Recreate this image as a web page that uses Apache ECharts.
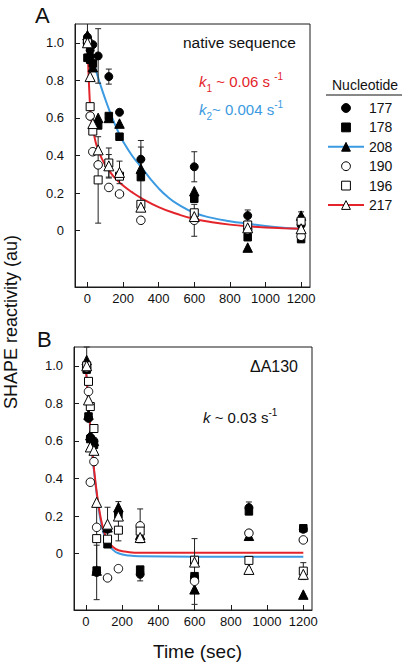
<!DOCTYPE html>
<html><head><meta charset="utf-8">
<script src="https://cdn.jsdelivr.net/npm/echarts@6/dist/echarts.min.js"></script>
<style>html,body{margin:0;padding:0;background:#fff}#c{width:402px;height:662px}</style>
</head><body><div id="c"></div>
<script>
// ---------- data ----------
const nucleotides = ['177', '178', '208', '190', '196', '217'];
const xTicks = [0, 200, 400, 600, 800, 1000, 1200];
const yTicks = [0, 0.2, 0.4, 0.6, 0.8, 1.0];

// Panel A : native sequence
const timesA = [0, 15, 30, 60, 120, 180, 300, 600, 900, 1200];
const a177 = [1.03, 0.96, 0.99, 0.93, 0.82, 0.63, 0.38, 0.34, 0.08, 0.03];
const a178 = [0.92, 0.91, 0.89, 0.56, 0.61, 0.50, 0.285, 0.17, -0.035, -0.045];
const a208 = [1.04, 0.95, 0.87, 0.60, 0.60, 0.57, 0.33, 0.21, -0.09, 0.08];
const a190 = [1.00, 0.61, 0.42, 0.35, 0.23, 0.195, 0.055, 0.055, 0.005, -0.03];
const a196 = [1.00, 0.66, 0.53, 0.27, 0.36, 0.29, 0.14, 0.095, 0.03, 0.05];
const a217 = [1.00, 0.82, 0.57, 0.43, 0.345, 0.31, 0.125, 0.075, 0.015, 0.01];
const errA177 = [0.09, 0, 0, 0.145, 0.04, 0, 0.10, 0.08, 0.03, 0];
const errA178 = [0, 0, 0, 0, 0, 0, 0.16, 0, 0, 0];
const errA208 = [0, 0, 0, 0, 0, 0, 0, 0, 0, 0.02];
const errA190 = [0, 0, 0, 0, 0, 0, 0, 0.085, 0, 0];
const errA196 = [0, 0, 0, 0.23, 0.08, 0, 0, 0, 0, 0.03];
const errA217 = [0, 0, 0, 0, 0.06, 0.06, 0, 0, 0, 0];
// fitted curves, panel A
const fitA1Time = [0, 5, 10, 15, 20, 30, 45, 60, 80, 100, 120, 150, 200, 250, 300, 400, 500, 600, 700, 800, 900, 1000, 1100, 1200];
const fitA1Val = [1.0, 0.86, 0.75, 0.66, 0.60, 0.55, 0.475, 0.43, 0.385, 0.35, 0.322, 0.285, 0.24, 0.205, 0.175, 0.125, 0.09, 0.062, 0.045, 0.032, 0.023, 0.017, 0.013, 0.01];
const fitA2Time = [0, 25, 50, 75, 100, 125, 150, 175, 200, 250, 300, 350, 400, 450, 500, 600, 700, 800, 900, 1000, 1100, 1200];
const fitA2Val = [1.0, 0.92, 0.845, 0.77, 0.70, 0.635, 0.575, 0.522, 0.475, 0.40, 0.34, 0.28, 0.225, 0.18, 0.145, 0.095, 0.068, 0.05, 0.037, 0.025, 0.016, 0.01];

// Panel B : ΔA130
const timesB = [5, 15, 25, 45, 60, 120, 180, 300, 600, 900, 1200];
const b177 = [1.00, 0.72, 0.62, 0.60, -0.10, 0.13, 0.22, -0.11, -0.125, 0.245, 0.13];
const b178 = [0.98, 0.73, 0.61, 0.58, -0.09, 0.05, 0.21, -0.085, -0.12, 0.225, 0.135];
const b208 = [1.03, 0.74, 0.63, 0.60, -0.09, 0.14, 0.247, 0.10, -0.19, 0.095, -0.218];
const b190 = [0.99, 0.863, 0.38, 0.49, 0.14, -0.129, -0.08, 0.148, -0.147, 0.109, 0.073];
const b196 = [1.00, 0.917, 0.783, 0.666, 0.08, 0.077, 0.125, 0.12, -0.035, -0.036, -0.093];
const b217 = [1.00, 0.818, 0.568, 0.55, 0.273, 0.157, 0.20, 0.086, -0.045, -0.084, -0.11];
const errB177 = [0, 0, 0, 0, 0.145, 0, 0, 0.035, 0, 0.03, 0];
const errB178 = [0, 0, 0, 0, 0, 0, 0, 0, 0, 0, 0];
const errB208 = [0.07, 0, 0, 0, 0, 0, 0.03, 0, 0.08, 0, 0];
const errB190 = [0, 0, 0, 0, 0, 0, 0, 0.09, 0, 0, 0];
const errB196 = [0, 0, 0, 0, 0.17, 0, 0.057, 0, 0.115, 0, 0.045];
const errB217 = [0, 0, 0, 0, 0, 0.09, 0, 0, 0, 0, 0];
const fitBTime = [0, 10, 20, 30, 40, 50, 60, 75, 90, 105, 120, 150, 180, 240, 300, 600, 900, 1200];
const fitBRedVal = [1.0, 0.86, 0.73, 0.61, 0.50, 0.41, 0.33, 0.23, 0.155, 0.105, 0.072, 0.035, 0.018, 0.008, 0.005, 0.005, 0.005, 0.005];
const fitBBlueVal = [1.0, 0.85, 0.72, 0.60, 0.49, 0.40, 0.32, 0.215, 0.14, 0.09, 0.058, 0.02, 0.002, -0.01, -0.014, -0.016, -0.016, -0.016];

// ---------- styles ----------
const FONT = '"Liberation Sans", Arial, Helvetica, sans-serif';
const RED = '#e3242b';
const BLUE = '#3b9ae1';
const INK = '#1a1a1a';
const markerStyles = {
  '177': { symbol: 'circle', size: 8, fill: '#000' },
  '178': { symbol: 'rect', size: 7.5, fill: '#000' },
  '208': { symbol: 'triangle', size: 9.5, fill: '#000' },
  '190': { symbol: 'circle', size: 8.5, fill: '#fff' },
  '196': { symbol: 'rect', size: 8, fill: '#fff' },
  '217': { symbol: 'triangle', size: 10, fill: '#fff' }
};
const legendLine = { '208': BLUE, '217': RED };

const zip = (t, v) => t.map((x, i) => [x, v[i]]);

function markerSeries(name, times, vals, g) {
  const st = markerStyles[name];
  return {
    type: 'line', name, xAxisIndex: g, yAxisIndex: g,
    data: zip(times, vals), symbol: st.symbol, symbolSize: st.size, showSymbol: true,
    lineStyle: { width: 0, opacity: 0, color: 'rgba(0,0,0,0)' },
    itemStyle: { color: st.fill, borderColor: '#000', borderWidth: 1, opacity: 1 },
    emphasis: { disabled: true }, silent: true, z: 5, animation: false
  };
}
function errSeries(times, vals, errs, g) {
  const data = [];
  times.forEach((t, i) => { if (errs[i] > 0) data.push([t, vals[i], errs[i]]); });
  return {
    type: 'custom', xAxisIndex: g, yAxisIndex: g, data, z: 3, silent: true, animation: false,
    encode: { x: 0, y: 1 },
    renderItem(params, api) {
      const t = api.value(0), v = api.value(1), e = api.value(2);
      const top = api.coord([t, v + e]), bot = api.coord([t, v - e]);
      const cs = params.coordSys;
      const y1 = Math.max(top[1], cs.y), y2 = Math.min(bot[1], cs.y + cs.height);
      const x = top[0];
      const st = { stroke: '#222', lineWidth: 1 };
      const ch = [{ type: 'line', shape: { x1: x, y1: y1, x2: x, y2: y2 }, style: st }];
      if (top[1] >= cs.y) ch.push({ type: 'line', shape: { x1: x - 3, y1: top[1], x2: x + 3, y2: top[1] }, style: st });
      if (bot[1] <= cs.y + cs.height) ch.push({ type: 'line', shape: { x1: x - 3, y1: bot[1], x2: x + 3, y2: bot[1] }, style: st });
      return { type: 'group', children: ch };
    }
  };
}
function fitSeries(name, times, vals, color, g) {
  return {
    type: 'line', name, xAxisIndex: g, yAxisIndex: g, data: zip(times, vals),
    showSymbol: false, symbol: 'none', smooth: true,
    lineStyle: { color, width: 2 }, z: 2, silent: true, animation: false
  };
}

const valsA = { '177': a177, '178': a178, '208': a208, '190': a190, '196': a196, '217': a217 };
const errsA = { '177': errA177, '178': errA178, '208': errA208, '190': errA190, '196': errA196, '217': errA217 };
const valsB = { '177': b177, '178': b178, '208': b208, '190': b190, '196': b196, '217': b217 };
const errsB = { '177': errB177, '178': errB178, '208': errB208, '190': errB190, '196': errB196, '217': errB217 };

const series = [];
series.push(fitSeries('fit k2 A', fitA2Time, fitA2Val, BLUE, 0));
series.push(fitSeries('fit k1 A', fitA1Time, fitA1Val, RED, 0));
series.push(fitSeries('fit blue B', fitBTime, fitBBlueVal, BLUE, 1));
series.push(fitSeries('fit red B', fitBTime, fitBRedVal, RED, 1));
nucleotides.forEach(n => series.push(errSeries(timesA, valsA[n], errsA[n], 0)));
nucleotides.forEach(n => series.push(errSeries(timesB, valsB[n], errsB[n], 1)));
nucleotides.forEach(n => series.push(markerSeries(n, timesA, valsA[n], 0)));
nucleotides.forEach(n => series.push(markerSeries(n, timesB, valsB[n], 1)));

const gridCommon = { show: true, borderColor: INK, borderWidth: 1, backgroundColor: 'transparent' };
const xAxisFor = (g, min, max) => ({
  type: 'value', gridIndex: g, min, max,
  axisLine: { show: true, onZero: false, lineStyle: { color: INK, width: 1 } },
  axisTick: { show: true, inside: true, length: 5, customValues: xTicks, lineStyle: { color: INK } },
  axisLabel: { customValues: xTicks, fontSize: 13, color: '#111', fontFamily: FONT, margin: 5,
    formatter: v => String(v) },
  splitLine: { show: false }
});
const yAxisFor = (g) => ({
  type: 'value', gridIndex: g, min: -0.3, max: 1.1,
  axisLine: { show: true, onZero: false, lineStyle: { color: INK, width: 1 } },
  axisTick: { show: true, inside: true, length: 5, customValues: yTicks, lineStyle: { color: INK } },
  axisLabel: { customValues: yTicks, fontSize: 13, color: '#111', fontFamily: FONT, margin: 11,
    formatter: v => (v === 0 ? '0' : v.toFixed(1)) },
  splitLine: { show: false }
});

const txt = (x, y, text, size, extra) => ({
  type: 'text', x, y, silent: true,
  style: Object.assign({ text, fontSize: size, fontFamily: FONT, fill: '#111', align: 'left', verticalAlign: 'middle' }, extra || {})
});
const richK = (color) => ({
  k: { fontSize: 15, fontStyle: 'italic', fontFamily: FONT, lineHeight: 16, fill: color, verticalAlign: 'middle' },
  m: { fontSize: 15, fontFamily: FONT, lineHeight: 16, fill: color, verticalAlign: 'middle' },
  sub: { fontSize: 10, fontFamily: FONT, lineHeight: 10, padding: [14, 0, 0, 0], fill: color, verticalAlign: 'middle' },
  sup: { fontSize: 10, fontFamily: FONT, lineHeight: 10, padding: [0, 0, 10, 0], fill: color, verticalAlign: 'middle' }
});

const option = {
  animation: false,
  backgroundColor: '#fff',
  grid: [
    Object.assign({ left: 75, top: 24, width: 235, height: 263 }, gridCommon),
    Object.assign({ left: 74, top: 347, width: 238, height: 263 }, gridCommon)
  ],
  xAxis: [xAxisFor(0, -70, 1250), xAxisFor(1, -65, 1248)],
  yAxis: [yAxisFor(0), yAxisFor(1)],
  legend: {
    data: nucleotides.map(n => ({
      name: n,
      itemStyle: { color: markerStyles[n].fill, borderColor: '#000', borderWidth: 1, opacity: 1 },
      lineStyle: legendLine[n] ? { color: legendLine[n], width: 2, opacity: 1 } : { color: 'rgba(0,0,0,0)', width: 0, opacity: 0 }
    })),
    orient: 'vertical', left: 327, top: 100.5, itemWidth: 36, itemHeight: 11, itemGap: 4.4,
    selectedMode: false, padding: 0,
    textStyle: { fontSize: 14, fontFamily: FONT, color: '#111', lineHeight: 15 }
  },
  graphic: { elements: [
    txt(35, 15, 'A', 22),
    txt(37, 339, 'B', 22),
    Object.assign(txt(11, 322, 'SHAPE reactivity (au)', 18, { align: 'center' }), { rotation: Math.PI / 2 }),
    txt(197.5, 651.5, 'Time (sec)', 19, { align: 'center' }),
    txt(332, 85, 'Nucleotide', 14),
    { type: 'line', silent: true, shape: { x1: 326, y1: 95, x2: 402, y2: 95 }, style: { stroke: '#111', lineWidth: 1 } },
    txt(183, 42, 'native sequence', 15.5),
    { type: 'text', x: 199, y: 81, silent: true,
      style: { text: '{k|k}{sub|1}{m| ~ 0.06 s }{sup|-1}', rich: richK(RED), fill: RED, verticalAlign: 'middle', align: 'left' } },
    { type: 'text', x: 199, y: 109, silent: true,
      style: { text: '{k|k}{sub|2}{m|~ 0.004 s}{sup|-1}', rich: richK(BLUE), fill: BLUE, verticalAlign: 'middle', align: 'left' } },
    txt(298, 366.5, 'ΔA130', 16, { align: 'right' }),
    { type: 'text', x: 203, y: 417, silent: true,
      style: { text: '{k|k}{m| ~ 0.03 s}{sup|-1}', rich: richK('#111'), fill: '#111', verticalAlign: 'middle', align: 'left' } }
  ] },
  series
};

const chart = echarts.init(document.getElementById('c'), null, { renderer: 'svg', width: 402, height: 662 });
chart.setOption(option);
</script>
</body></html>
